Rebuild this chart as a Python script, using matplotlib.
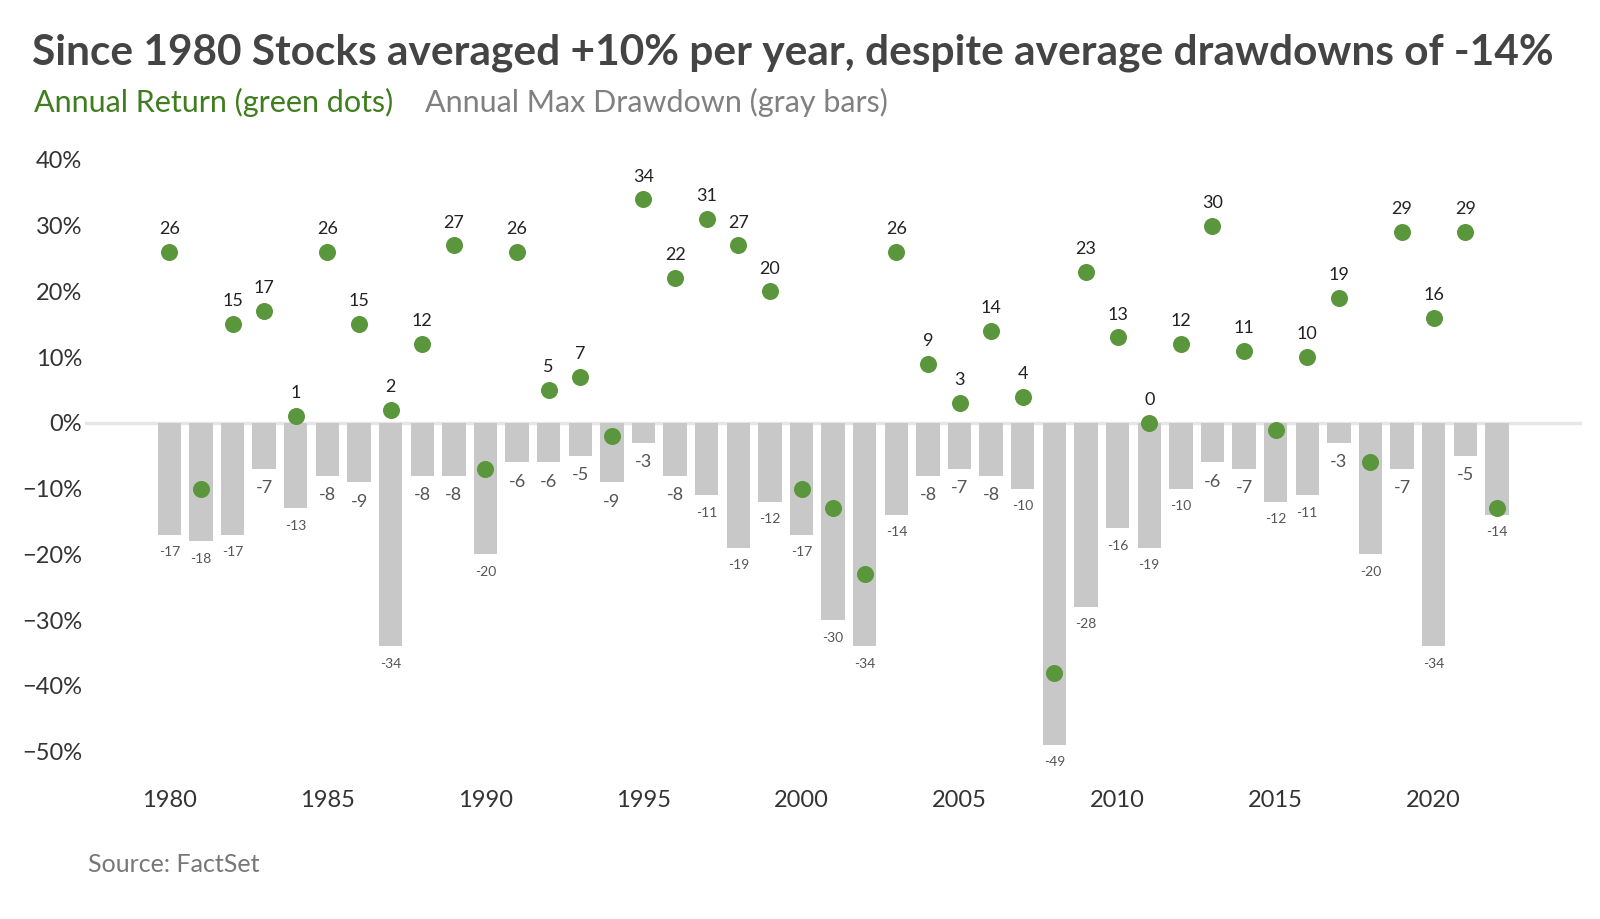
import matplotlib.pyplot as plt
import numpy as np

plt.rcParams['font.family'] = ['Lato', 'DejaVu Sans']

# dados
anos = list(range(1980, 2023))
retorno = [26, -10, 15, 17, 1, 26, 15, 2, 12, 27,
           -7, 26, 5, 7, -2, 34, 22, 31, 27, 20,
           -10, -13, -23, 26, 9, 3, 14, 4, -38, 23,
           13, 0, 12, 30, 11, -1, 10, 19, -6, 29,
           16, 29, -13]
drawdown = [-17, -18, -17, -7, -13, -8, -9, -34, -8, -8,
            -20, -6, -6, -5, -9, -3, -8, -11, -19, -12,
            -17, -30, -34, -14, -8, -7, -8, -10, -49, -28,
            -16, -19, -10, -6, -7, -12, -11, -3, -20, -7,
            -34, -5, -14]
yticks = [40, 30, 20, 10, 0, -10, -20, -30, -40, -50]
xticks = [1980, 1985, 1990, 1995, 2000, 2005, 2010, 2015, 2020]

verde = '#5a963c'
cinza_barra = '#c8c8c8'

fig = plt.figure(figsize=(16, 9.19), dpi=100)
ax = fig.add_axes([0.0531, 0.1463, 0.9356, 0.7154])

ax.axhline(0, color='#e6e6e6', lw=2.4, zorder=1)
ax.bar(anos, drawdown, width=0.74, color=cinza_barra, zorder=2)
ax.scatter(anos, retorno, s=150, color=verde, zorder=3, linewidths=0)

# rotulos das barras
for a, d in zip(anos, drawdown):
    if d > -10:
        ax.annotate(str(d), (a, d), xytext=(0, -14), textcoords='offset points',
                    ha='center', va='center', fontsize=13, color='#555555')
    else:
        ax.annotate(str(d), (a, d), xytext=(0, -12.5), textcoords='offset points',
                    ha='center', va='center', fontsize=10, color='#555555')

# rotulos dos pontos (so positivos)
for a, r in zip(anos, retorno):
    if r >= 0:
        ax.annotate(str(r), (a, r), xytext=(0, 16.5), textcoords='offset points',
                    ha='center', va='center', fontsize=13, color='#222222')

ax.set_xlim(1977.33, 2024.69)
ax.set_ylim(-55, 45)
ax.set_yticks(yticks)
ax.set_yticklabels([str(v) + '%' if v >= 0 else '\u2212' + str(-v) + '%' for v in yticks])
ax.set_xticks(xticks)
ax.tick_params(axis='both', length=0, labelsize=17, labelcolor='#333333')
ax.tick_params(axis='y', pad=2)
ax.tick_params(axis='x', pad=4)
for s in ax.spines.values():
    s.set_visible(False)

fig.text(0.02, 0.943, 'Since 1980 Stocks averaged +10% per year, despite average drawdowns of -14%',
         fontsize=30.5, fontweight='bold', color='#444444', va='center', ha='left')
fig.text(0.021, 0.888, 'Annual Return (green dots)', fontsize=22, color='#3f7d1f',
         va='center', ha='left')
fig.text(0.2656, 0.888, 'Annual Max Drawdown (gray bars)', fontsize=22, color='#808080',
         va='center', ha='left')
fig.text(0.055, 0.059, 'Source: FactSet', fontsize=18, color='#777777', va='center', ha='left')

fig.savefig('out.png', dpi=100)
